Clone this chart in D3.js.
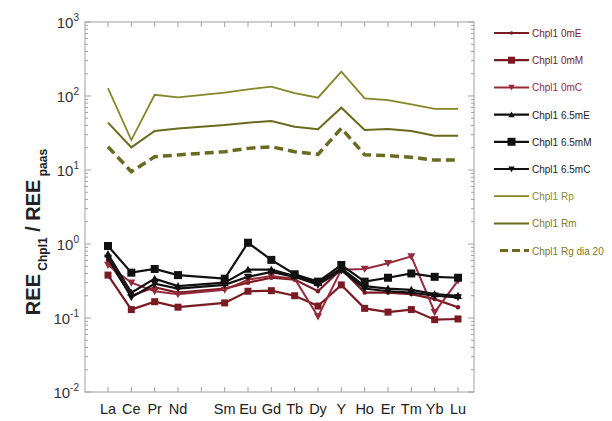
<!DOCTYPE html>
<html><head><meta charset="utf-8">
<script src="https://cdn.jsdelivr.net/npm/d3@7/dist/d3.min.js"></script>
<style>body{margin:0;background:#fff;}svg{display:block;font-family:"Liberation Sans",Arial,sans-serif;}</style>
</head><body><svg id="c" width="612" height="421"></svg>
<script>
// Categories and their slot index on the x axis (Pm slot left empty)
const elements = ["La","Ce","Pr","Nd","Sm","Eu","Gd","Tb","Dy","Y","Ho","Er","Tm","Yb","Lu"];
const slots    = [0,1,2,3,5,6,7,8,9,10,11,12,13,14,15];
const tickSlots = [0,1,2,3,4,5,6,7,8,9,10,11,12,13,14,15];
const yTicks = [1e-2,1e-1,1e0,1e1,1e2,1e3];
const yExps  = ["-2","-1","0","1","2","3"];

const s0mE  = [0.60,0.20,0.26,0.22,0.25,0.30,0.35,0.33,0.23,0.46,0.22,0.22,0.21,0.18,0.14];
const s0mM  = [0.38,0.13,0.166,0.14,0.16,0.23,0.234,0.20,0.145,0.28,0.135,0.12,0.13,0.095,0.097];
const s0mC  = [0.52,0.30,0.23,0.21,0.24,0.33,0.37,0.34,0.105,0.45,0.46,0.55,0.68,0.12,0.32];
const s65mE = [0.73,0.22,0.34,0.27,0.30,0.45,0.45,0.37,0.30,0.47,0.27,0.25,0.24,0.21,0.20];
const s65mM = [0.94,0.41,0.46,0.38,0.34,1.04,0.61,0.39,0.31,0.52,0.31,0.35,0.40,0.36,0.35];
const s65mC = [0.65,0.19,0.29,0.25,0.28,0.36,0.42,0.36,0.28,0.44,0.25,0.23,0.22,0.20,0.19];
const sRp   = [128,25.4,104,96,111,123,134,109,95,213,93,88,77,67,67];
const sRm   = [43.6,20.2,33.7,36.5,40.6,43.6,45.9,38.5,35.5,69.5,34.7,35.8,33.7,29.1,29.1];
const sRg   = [20.6,9.5,15.1,16.0,17.7,19.6,20.6,17.7,16.3,36.6,16.0,15.6,14.9,13.6,13.6];

const seriesNames = ["Chpl1 0mE","Chpl1 0mM","Chpl1 0mC","Chpl1 6.5mE","Chpl1 6.5mM","Chpl1 6.5mC","Chpl1 Rp","Chpl1 Rm","Chpl1 Rg dia 20"];
const seriesData  = [s0mE,s0mM,s0mC,s65mE,s65mM,s65mC,sRp,sRm,sRg];
const styles = [
  {color:"#7a1a22", text:"#7a1a22", w:2.2, marker:"circle", ms:2.2},
  {color:"#7a1a22", text:"#7a1a22", w:2.2, marker:"square", ms:7},
  {color:"#962a3c", text:"#962a3c", w:2.0, marker:"tridown", ms:4},
  {color:"#111111", text:"#222222", w:2.2, marker:"triup", ms:4},
  {color:"#111111", text:"#222222", w:2.2, marker:"square", ms:8},
  {color:"#111111", text:"#222222", w:2.2, marker:"tridown", ms:4},
  {color:"#85852a", text:"#8a8a2e", w:1.8, marker:null},
  {color:"#6a6a1e", text:"#7a7a26", w:2.0, marker:null},
  {color:"#6a6a22", text:"#7a7a26", w:3.5, marker:null, dash:"9,5"}
];

const svg = d3.select("#c");
const L=85, R=474, T=22, B=392;
const x = d3.scaleLinear().domain([0,15]).range([108,458]);
const y = d3.scaleLog().domain([1e-2,1e3]).range([B,T]);

// frame
svg.append("rect").attr("x",L).attr("y",T).attr("width",R-L).attr("height",B-T)
  .attr("fill","none").attr("stroke","#a0a0a0").attr("stroke-width",1);

// minor + major ticks (inside) on left/right
const minors=[];
for(let e=-2;e<3;e++){for(let k=2;k<=9;k++) minors.push(k*Math.pow(10,e));}
const gAx = svg.append("g").attr("stroke","#a0a0a0").attr("stroke-width",1);
minors.forEach(v=>{
  gAx.append("line").attr("x1",L).attr("x2",L+3).attr("y1",y(v)).attr("y2",y(v));
  gAx.append("line").attr("x1",R).attr("x2",R-3).attr("y1",y(v)).attr("y2",y(v));
});
yTicks.forEach(v=>{
  gAx.append("line").attr("x1",L).attr("x2",L+6).attr("y1",y(v)).attr("y2",y(v));
  gAx.append("line").attr("x1",R).attr("x2",R-6).attr("y1",y(v)).attr("y2",y(v));
});
tickSlots.forEach(s=>{
  gAx.append("line").attr("x1",x(s)).attr("x2",x(s)).attr("y1",B).attr("y2",B-5);
  gAx.append("line").attr("x1",x(s)).attr("x2",x(s)).attr("y1",T).attr("y2",T+5);
});

// y tick labels
yTicks.forEach((v,i)=>{
  const t = svg.append("text").attr("x",L-6).attr("y",y(v)+6).attr("text-anchor","end")
    .attr("font-size",15).attr("fill","#333");
  t.append("tspan").text("10");
  t.append("tspan").attr("dy",-7).attr("font-size",10).text(yExps[i]);
});
// x tick labels
elements.forEach((e,i)=>{
  svg.append("text").attr("x",x(slots[i])).attr("y",B+22).attr("text-anchor","middle")
    .attr("font-size",14.5).attr("fill","#222").text(e);
});

// y axis title
const yt = svg.append("text").attr("transform","translate(40,232) rotate(-90)")
  .attr("text-anchor","middle").attr("font-size",20).attr("font-weight","bold").attr("fill","#222");
yt.append("tspan").text("REE");
yt.append("tspan").attr("dy",7).attr("font-size",12).text(" Chpl1");
yt.append("tspan").attr("dy",-7).text("  / REE");
yt.append("tspan").attr("dy",7).attr("font-size",12).text(" paas");

// marker drawing
function marker(g,type,cx,cy,size,color){
  if(type==="square") g.append("rect").attr("x",cx-size/2).attr("y",cy-size/2).attr("width",size).attr("height",size).attr("fill",color);
  else if(type==="circle") g.append("circle").attr("cx",cx).attr("cy",cy).attr("r",size).attr("fill",color);
  else if(type==="triup") g.append("path").attr("d",`M${cx},${cy-size}L${cx+size},${cy+size*0.8}L${cx-size},${cy+size*0.8}Z`).attr("fill",color);
  else if(type==="tridown") g.append("path").attr("d",`M${cx},${cy+size}L${cx+size},${cy-size*0.8}L${cx-size},${cy-size*0.8}Z`).attr("fill",color);
}

const line = d3.line().x(d=>x(d[0])).y(d=>y(d[1]));
seriesData.forEach((arr,si)=>{
  const st=styles[si];
  const pts = arr.map((v,i)=>[slots[i],v]);
  const g = svg.append("g");
  g.append("path").attr("d",line(pts)).attr("fill","none").attr("stroke",st.color)
    .attr("stroke-width",st.w).attr("stroke-linejoin","miter").attr("stroke-dasharray",st.dash||null);
  if(st.marker) pts.forEach(p=>marker(g,st.marker,x(p[0]),y(p[1]),st.ms,st.color));
});

// legend
const ly0=33, ldy=27.2;
seriesNames.forEach((n,i)=>{
  const st=styles[i];
  const yy=ly0+i*ldy;
  const g=svg.append("g");
  const x1 = st.dash?500:494, x2=529;
  g.append("line").attr("x1",x1).attr("x2",x2).attr("y1",yy).attr("y2",yy)
    .attr("stroke",st.color).attr("stroke-width",st.dash?3:st.w).attr("stroke-dasharray",st.dash?"8,4":null);
  if(st.marker) marker(g,st.marker,(494+529)/2,yy,st.marker==="square"?st.ms:st.ms*0.8,st.color);
  g.append("text").attr("x",532).attr("y",yy+4).attr("font-size",10).attr("fill",st.text).text(n);
});
</script></body></html>
